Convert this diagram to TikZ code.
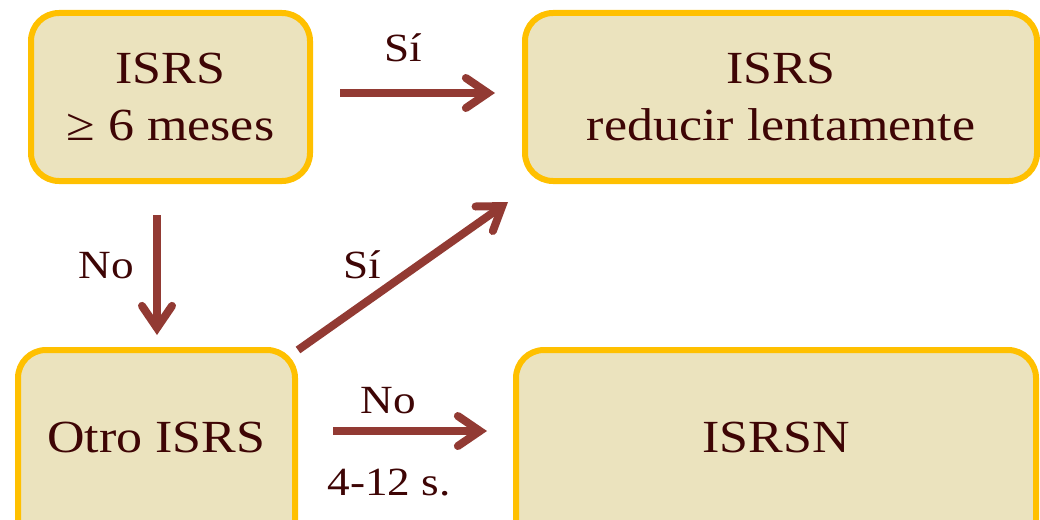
\documentclass[tikz,border=0pt]{standalone}
\usepackage{fontspec}
\setmainfont[FakeStretch=1.13]{Liberation Serif}
\usetikzlibrary{arrows.meta}
\definecolor{boxfill}{HTML}{EBE3BE}
\definecolor{boxline}{HTML}{FFC000}
\definecolor{txtc}{HTML}{3E0505}
\definecolor{arrc}{HTML}{923A33}
\tikzset{
  box/.style={draw=boxline, fill=boxfill, line width=6pt, rounded corners=28pt,
    align=center, text=txtc, font=\fontsize{46}{57}\selectfont, inner sep=0pt},
  lowbox/.style={box, minimum height=205pt, text height=30.5pt, text depth=31.5pt},
  lbl/.style={text=txtc, font=\fontsize{40}{48}\selectfont, anchor=base, inner sep=0pt},
  arr/.style={draw=arrc, line width=8pt,
    -{Straight Barb[length=22pt,width=30pt,line cap=round,line join=miter]}},
}
\begin{document}
\begin{tikzpicture}[x=1pt,y=-1pt]
\useasboundingbox (0,0) rectangle (1040,519);
\node[box, minimum width=279pt, minimum height=168pt] (A) at (170.5,97) {ISRS\\≥ 6 meses};
\node[box, minimum width=512pt, minimum height=168pt] (B) at (781,97) {ISRS\\reducir lentamente};
\node[lowbox, minimum width=277pt] (C) at (156.5,452.5) {Otro ISRS};
\node[lowbox, minimum width=520pt] (D) at (776,452.5) {ISRSN};
\coordinate (a1s) at (340,93);  \coordinate (a1e) at (495,93);
\coordinate (a2s) at (157,215); \coordinate (a2e) at (157,335);
\coordinate (a3s) at (298,350); \coordinate (a3e) at (508,202);
\coordinate (a4s) at (333,431); \coordinate (a4e) at (487,431);
\draw[arr] (a1s) -- (a1e);
\draw[arr] (a2s) -- (a2e);
\draw[arr] (a3s) -- (a3e);
\draw[arr] (a4s) -- (a4e);
\node[lbl] (l1) at (403,62) {Sí};
\node[lbl] (l2) at (106,278) {No};
\node[lbl] (l3) at (362,278) {Sí};
\node[lbl] (l4) at (388,413) {No};
\node[lbl] (l5) at (389,495) {4-12 s.};
\end{tikzpicture}
\end{document}
